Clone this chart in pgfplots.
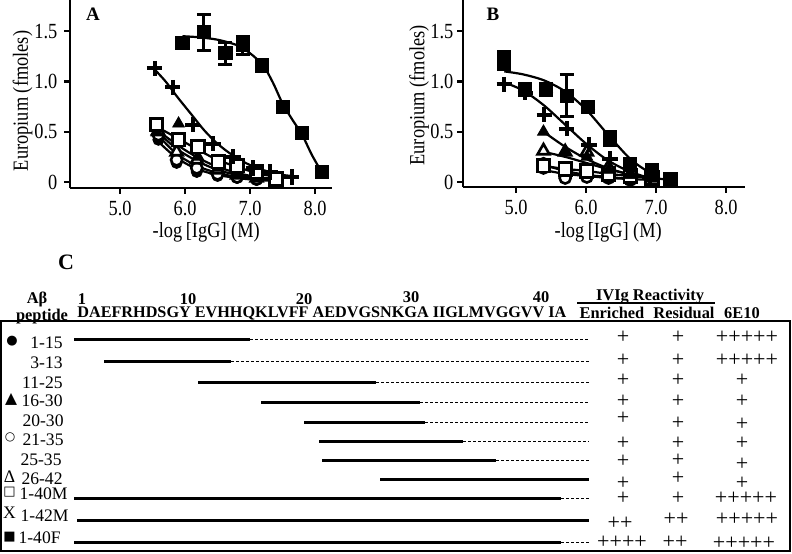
\documentclass[border=0pt]{standalone}
\usepackage{fontspec}
\setmainfont{Liberation Serif}
\newfontfamily\sym{DejaVu Sans}
\newfontfamily\narrow[FakeStretch=0.85]{Liberation Serif}
\usepackage{pgfplots}
\pgfplotsset{compat=1.18}
\newcommand\hb{\bfseries\fontsize{8.2}{9}\selectfont}
\newcommand\rl{\fontsize{8.8}{9}\selectfont}
\newcommand\pls{\fontsize{11}{11}\selectfont}
\newcommand\axf{\narrow\fontsize{10.8}{12}\selectfont}
\pgfplotsset{
 prism/.style={scale only axis, axis x line*=bottom, axis y line*=left,
  axis line style={line width=1.2pt}, tick style={black,line width=1.1pt},
  tick align=outside, major tick length=2.8pt,
  ymin=-0.06, ymax=1.81, ytick={0,0.5,1,1.5}, yticklabels={0,0.5,1.0,1.5},
  xtick={5,6,7,8}, xticklabels={5.0,6.0,7.0,8.0},
  tick label style={font=\axf},
  label style={font=\axf}, clip=false},
 fit/.style={smooth, no markers, line width=1.1pt, black},
 fsq/.style={only marks, mark=square*, mark size=3.3pt, black},
 osq/.style={only marks, mark=square*, mark size=3.1pt, black, mark options={fill=white, line width=1.4pt}},
 crs/.style={only marks, mark=+, mark size=3.8pt, black, mark options={line width=2pt}},
 ftr/.style={only marks, mark=triangle*, mark size=3.4pt, black},
 otr/.style={only marks, mark=triangle*, mark size=3.4pt, black, mark options={fill=white, line width=1.3pt}},
 fci/.style={only marks, mark=*, mark size=2.8pt, black},
 oci/.style={only marks, mark=*, mark size=2.8pt, black, mark options={fill=white, line width=1.3pt}},
 ebar/.style={error bars/.cd, y dir=both, y explicit, error bar style={line width=1.5pt, black},
  error mark options={rotate=90, mark size=3.5pt, line width=1.5pt, black}},
 sol/.style={no markers, black, line width=1.5pt},
 dsh/.style={no markers, black, line width=0.5pt, dash pattern=on 1.5pt off 1pt},
}
\begin{document}
\begin{tikzpicture}
\useasboundingbox (0pt,0pt) rectangle (396pt,-276.5pt);
% ---------------- Panel A
\begin{axis}[prism, at={(35pt,-94pt)}, anchor=south west, width=131pt, height=94pt,
  xmin=4.23, xmax=8.26,
  xlabel={-log\,[IgG] (M)}, ylabel={Europium (fmoles)},
  xlabel style={at={(axis description cs:0.52,-0.234)}, anchor=center},
  ylabel style={at={(axis description cs:-0.181,0.463)}, anchor=center}]
% filled circles 1-15
\addplot[fit] coordinates {(5.59,0.40) (5.87,0.24) (6.18,0.13) (6.5,0.07) (6.8,0.04) (7.1,0.02) (7.4,0.01)};
\addplot[fci] coordinates {(5.59,0.42) (5.87,0.19) (6.18,0.10) (6.50,0.06) (6.80,0.04) (7.10,0.02) (7.40,0.01)};
% open circles 21-35
\addplot[fit] coordinates {(5.59,0.46) (5.87,0.28) (6.18,0.16) (6.5,0.09) (6.8,0.05) (7.1,0.03) (7.4,0.02)};
\addplot[oci] coordinates {(5.59,0.47) (5.87,0.22) (6.18,0.14) (6.5,0.08) (6.8,0.05) (7.1,0.03) (7.4,0.02)};
% open triangles 26-42
\addplot[fit] coordinates {(5.59,0.49) (5.87,0.33) (6.18,0.21) (6.5,0.12) (6.8,0.07) (7.1,0.04)};
\addplot[otr] coordinates {(5.59,0.50) (5.87,0.30) (6.18,0.22) (6.50,0.12) (6.80,0.07) (7.10,0.04)};
% filled triangles 16-30
\addplot[fit] coordinates {(5.56,0.52) (5.9,0.36) (6.2,0.24) (6.5,0.15) (6.8,0.09) (7.1,0.05) (7.4,0.03)};
\addplot[ftr] coordinates {(5.56,0.50) (5.90,0.58) (6.20,0.25) (6.51,0.14) (6.80,0.08) (7.10,0.05) (7.40,0.02)};
% open squares 1-40M
\addplot[fit] coordinates {(5.56,0.55) (5.9,0.43) (6.2,0.32) (6.5,0.22) (6.8,0.15) (7.1,0.09) (7.4,0.05)};
\addplot[osq] coordinates {(5.56,0.57) (5.90,0.42) (6.20,0.35) (6.51,0.20) (6.80,0.16) (7.10,0.10) (7.40,0.03)};
% crosses 1-42M
\addplot[fit] coordinates {(5.53,1.12) (5.7,1.0) (5.9,0.83) (6.1,0.67) (6.3,0.51) (6.5,0.38) (6.7,0.28) (6.9,0.2) (7.1,0.14) (7.3,0.10) (7.5,0.07) (7.64,0.06)};
\addplot[crs] coordinates {(5.53,1.13) (5.81,0.94) (6.12,0.57) (6.43,0.38) (6.74,0.25) (7.05,0.14) (7.31,0.10) (7.64,0.05)};
% filled squares 1-40F
\addplot[fit] coordinates {(5.96,1.45) (6.2,1.44) (6.5,1.415) (6.8,1.36) (7.0,1.28) (7.2,1.16) (7.35,0.99) (7.5,0.78) (7.65,0.62) (7.8,0.47) (7.95,0.27) (8.1,0.1)};
\addplot[fsq, ebar] table[x=x, y=y, y error=e] {
x y e
5.96 1.38 0.03
6.29 1.49 0.18
6.62 1.28 0.11
6.89 1.36 0.09
7.18 1.16 0.02
7.50 0.75 0.02
7.80 0.49 0.02
8.10 0.10 0.02
};
\end{axis}
\node[font=\bfseries\fontsize{9.5}{10}\selectfont] at (46.5pt,-7pt) {A};
% ---------------- Panel B
\begin{axis}[prism, at={(231.5pt,-93.5pt)}, anchor=south west, width=141pt, height=93.5pt,
  xmin=4.24, xmax=8.27, ymin=-0.05,
  yticklabel style={xshift=1.5pt},
  xlabel={-log\,[IgG] (M)}, ylabel={Europium (fmoles)},
  xlabel style={at={(axis description cs:0.515,-0.24)}, anchor=center},
  ylabel style={at={(axis description cs:-0.156,0.49)}, anchor=center}]
% filled circles
\addplot[fit] coordinates {(5.39,0.17) (5.7,0.11) (6.01,0.07) (6.32,0.05) (6.63,0.03) (6.94,0.02)};
\addplot[fci] coordinates {(5.39,0.19) (5.70,0.11) (6.01,0.06) (6.32,0.05) (6.63,0.04) (6.94,0.02)};
% open circles
\addplot[fit] coordinates {(5.39,0.12) (5.7,0.08) (6.01,0.06) (6.32,0.04) (6.63,0.03)};
\addplot[oci] coordinates {(5.39,0.14) (5.70,0.04) (6.01,0.05) (6.32,0.04) (6.63,0.02)};
% open squares
\addplot[fit] coordinates {(5.39,0.16) (5.7,0.13) (6.01,0.11) (6.32,0.08) (6.63,0.06) (6.94,0.04) (7.2,0.02)};
\addplot[osq] coordinates {(5.39,0.16) (5.70,0.13) (6.01,0.11) (6.32,0.08) (6.63,0.06) (6.94,0.04) (7.20,0.02)};
% open triangles
\addplot[fit] coordinates {(5.39,0.30) (5.7,0.25) (6.0,0.19) (6.3,0.13) (6.6,0.08) (6.94,0.04)};
\addplot[otr] coordinates {(5.39,0.31) (5.70,0.30) (6.01,0.30) (6.32,0.15) (6.63,0.08) (6.94,0.04)};
% filled triangles
\addplot[fit] coordinates {(5.39,0.50) (5.7,0.35) (6.0,0.23) (6.3,0.14) (6.6,0.08) (6.94,0.04)};
\addplot[ftr] coordinates {(5.39,0.50) (5.70,0.30) (6.01,0.25) (6.32,0.12) (6.63,0.07) (6.94,0.04)};
% crosses
\addplot[fit] coordinates {(4.83,0.99) (5.1,0.91) (5.4,0.76) (5.7,0.57) (6.0,0.38) (6.3,0.22) (6.6,0.11) (6.9,0.04)};
\addplot[crs] coordinates {(4.83,0.97) (5.13,0.89) (5.40,0.67) (5.72,0.53) (6.04,0.37) (6.34,0.23) (6.63,0.12) (6.91,0.04)};
% filled squares
\addplot[fit] coordinates {(4.83,1.10) (5.1,1.07) (5.4,1.01) (5.7,0.90) (6.0,0.72) (6.3,0.48) (6.6,0.25) (6.8,0.14) (7.05,0.04)};
\addplot[fsq, ebar] table[x=x, y=y, y error=e] {
x y e
4.83 1.21 0.09
5.13 0.92 0.02
5.43 0.92 0.02
5.72 0.86 0.21
6.03 0.75 0.02
6.34 0.43 0.07
6.63 0.18 0.05
6.94 0.12 0.05
7.20 0.02 0.02
};
\end{axis}
\node[font=\bfseries\fontsize{9.5}{10}\selectfont] at (246.5pt,-7pt) {B};
% ---------------- Panel C
\begin{axis}[scale only axis, at={(0.5pt,-275.5pt)}, anchor=south west, width=394.5pt, height=115pt,
  xmin=1, xmax=790, ymin=-551, ymax=-321, xtick=\empty, ytick=\empty,
  axis line style={line width=1pt}, clip=false]
% peptide segments
\addplot[sol] coordinates {(74,-339) (250,-339)};  \addplot[dsh] coordinates {(250,-339) (589,-339)};
\addplot[sol] coordinates {(104,-361) (231,-361)}; \addplot[dsh] coordinates {(231,-361) (589,-361)};
\addplot[sol] coordinates {(198,-382) (376,-382)}; \addplot[dsh] coordinates {(376,-382) (589,-382)};
\addplot[sol] coordinates {(261,-402) (420,-402)}; \addplot[dsh] coordinates {(420,-402) (589,-402)};
\addplot[sol] coordinates {(304,-422) (425,-422)}; \addplot[dsh] coordinates {(425,-422) (589,-422)};
\addplot[sol] coordinates {(319,-441) (463,-441)}; \addplot[dsh] coordinates {(463,-441) (589,-441)};
\addplot[sol] coordinates {(322,-460) (496,-460)}; \addplot[dsh] coordinates {(496,-460) (589,-460)};
\addplot[sol] coordinates {(380,-479) (589,-479)};
\addplot[sol] coordinates {(74,-498) (561,-498)};  \addplot[dsh] coordinates {(561,-498) (589,-498)};
\addplot[sol] coordinates {(77,-520) (589,-520)};
\addplot[sol] coordinates {(74,-542) (561,-542)};  \addplot[dsh] coordinates {(561,-542) (589,-542)};
\begin{scope}[every node/.style={inner sep=0pt}]
% header
\node[font=\bfseries\fontsize{11}{11}\selectfont] at (axis cs:66,-262) {C};
\node[font=\hb] at (axis cs:37,-299) {Aβ};
\node[font=\hb] at (axis cs:42,-317) {peptide};
\node[font=\hb] at (axis cs:82,-299) {1};
\node[font=\hb] at (axis cs:188,-299) {10};
\node[font=\hb] at (axis cs:304,-299) {20};
\node[font=\hb] at (axis cs:411,-297) {30};
\node[font=\hb] at (axis cs:541,-297) {40};
\node[font=\bfseries\fontsize{8.1}{9}\selectfont, anchor=west] at (axis cs:77,-313) {DAEFRHDSGY EVHHQKLVFF AEDVGSNKGA IIGLMVGGVV IA};
\node[font=\hb] at (axis cs:650,-297) {IVIg Reactivity};
\node[font=\hb] at (axis cs:612,-313) {Enriched};
\node[font=\hb] at (axis cs:684,-313) {Residual};
\node[font=\hb] at (axis cs:742,-313) {6E10};
% row labels
\node[font=\rl, anchor=east] at (axis cs:63,-343) {1-15};
\node[font=\rl, anchor=east] at (axis cs:63,-363) {3-13};
\node[font=\rl, anchor=east] at (axis cs:63,-383) {11-25};
\node[font=\rl, anchor=east] at (axis cs:63,-401) {16-30};
\node[font=\rl, anchor=east] at (axis cs:64,-421) {20-30};
\node[font=\rl, anchor=east] at (axis cs:64,-440) {21-35};
\node[font=\rl, anchor=east] at (axis cs:62,-460) {25-35};
\node[font=\rl, anchor=east] at (axis cs:63,-479) {26-42};
\node[font=\rl, anchor=east] at (axis cs:68,-494) {1-40M};
\node[font=\rl, anchor=east] at (axis cs:69,-516) {1-42M};
\node[font=\rl, anchor=east] at (axis cs:61,-538) {1-40F};
% symbols
\node[font=\sym\fontsize{6.5}{7}\selectfont] at (axis cs:12,-341) {●};
\node[font=\sym\fontsize{7.8}{8}\selectfont] at (axis cs:11,-399) {▲};
\node[font=\sym\fontsize{6}{7}\selectfont] at (axis cs:10,-437) {○};
\node[font=\rl] at (axis cs:9.5,-477) {Δ};
\node[font=\sym\fontsize{6.5}{7}\selectfont] at (axis cs:9.5,-492) {□};
\node[font=\rl] at (axis cs:9.5,-513) {X};
\node[font=\sym\fontsize{6.5}{7}\selectfont] at (axis cs:9.5,-537) {■};
% reactivity pluses
\node[font=\pls] at (axis cs:623,-337) {+};
\node[font=\pls] at (axis cs:678,-337) {+};
\node[font=\pls] at (axis cs:747,-337) {+++++};
\node[font=\pls] at (axis cs:623,-360) {+};
\node[font=\pls] at (axis cs:678,-360) {+};
\node[font=\pls] at (axis cs:747,-360) {+++++};
\node[font=\pls] at (axis cs:623,-380) {+};
\node[font=\pls] at (axis cs:678,-380) {+};
\node[font=\pls] at (axis cs:742,-380) {+};
\node[font=\pls] at (axis cs:623,-401) {+};
\node[font=\pls] at (axis cs:678,-401) {+};
\node[font=\pls] at (axis cs:742,-401) {+};
\node[font=\pls] at (axis cs:623,-418) {+};
\node[font=\pls] at (axis cs:678,-423) {+};
\node[font=\pls] at (axis cs:742,-424) {+};
\node[font=\pls] at (axis cs:623,-443) {+};
\node[font=\pls] at (axis cs:678,-443) {+};
\node[font=\pls] at (axis cs:742,-443) {+};
\node[font=\pls] at (axis cs:623,-461) {+};
\node[font=\pls] at (axis cs:678,-460) {+};
\node[font=\pls] at (axis cs:742,-464) {+};
\node[font=\pls] at (axis cs:623,-483) {+};
\node[font=\pls] at (axis cs:678,-478) {+};
\node[font=\pls] at (axis cs:742,-483) {+};
\node[font=\pls] at (axis cs:623,-498) {+};
\node[font=\pls] at (axis cs:678,-498) {+};
\node[font=\pls] at (axis cs:746,-498) {+++++};
\node[font=\pls] at (axis cs:620,-523) {++};
\node[font=\pls] at (axis cs:676,-519) {++};
\node[font=\pls] at (axis cs:747,-519) {+++++};
\node[font=\pls] at (axis cs:622,-542) {++++};
\node[font=\pls] at (axis cs:675,-542) {++};
\node[font=\pls] at (axis cs:744,-543) {+++++};
\end{scope}
\draw[line width=0.8pt] (axis cs:577,-303) -- (axis cs:715,-303);
\end{axis}
\end{tikzpicture}
\end{document}
